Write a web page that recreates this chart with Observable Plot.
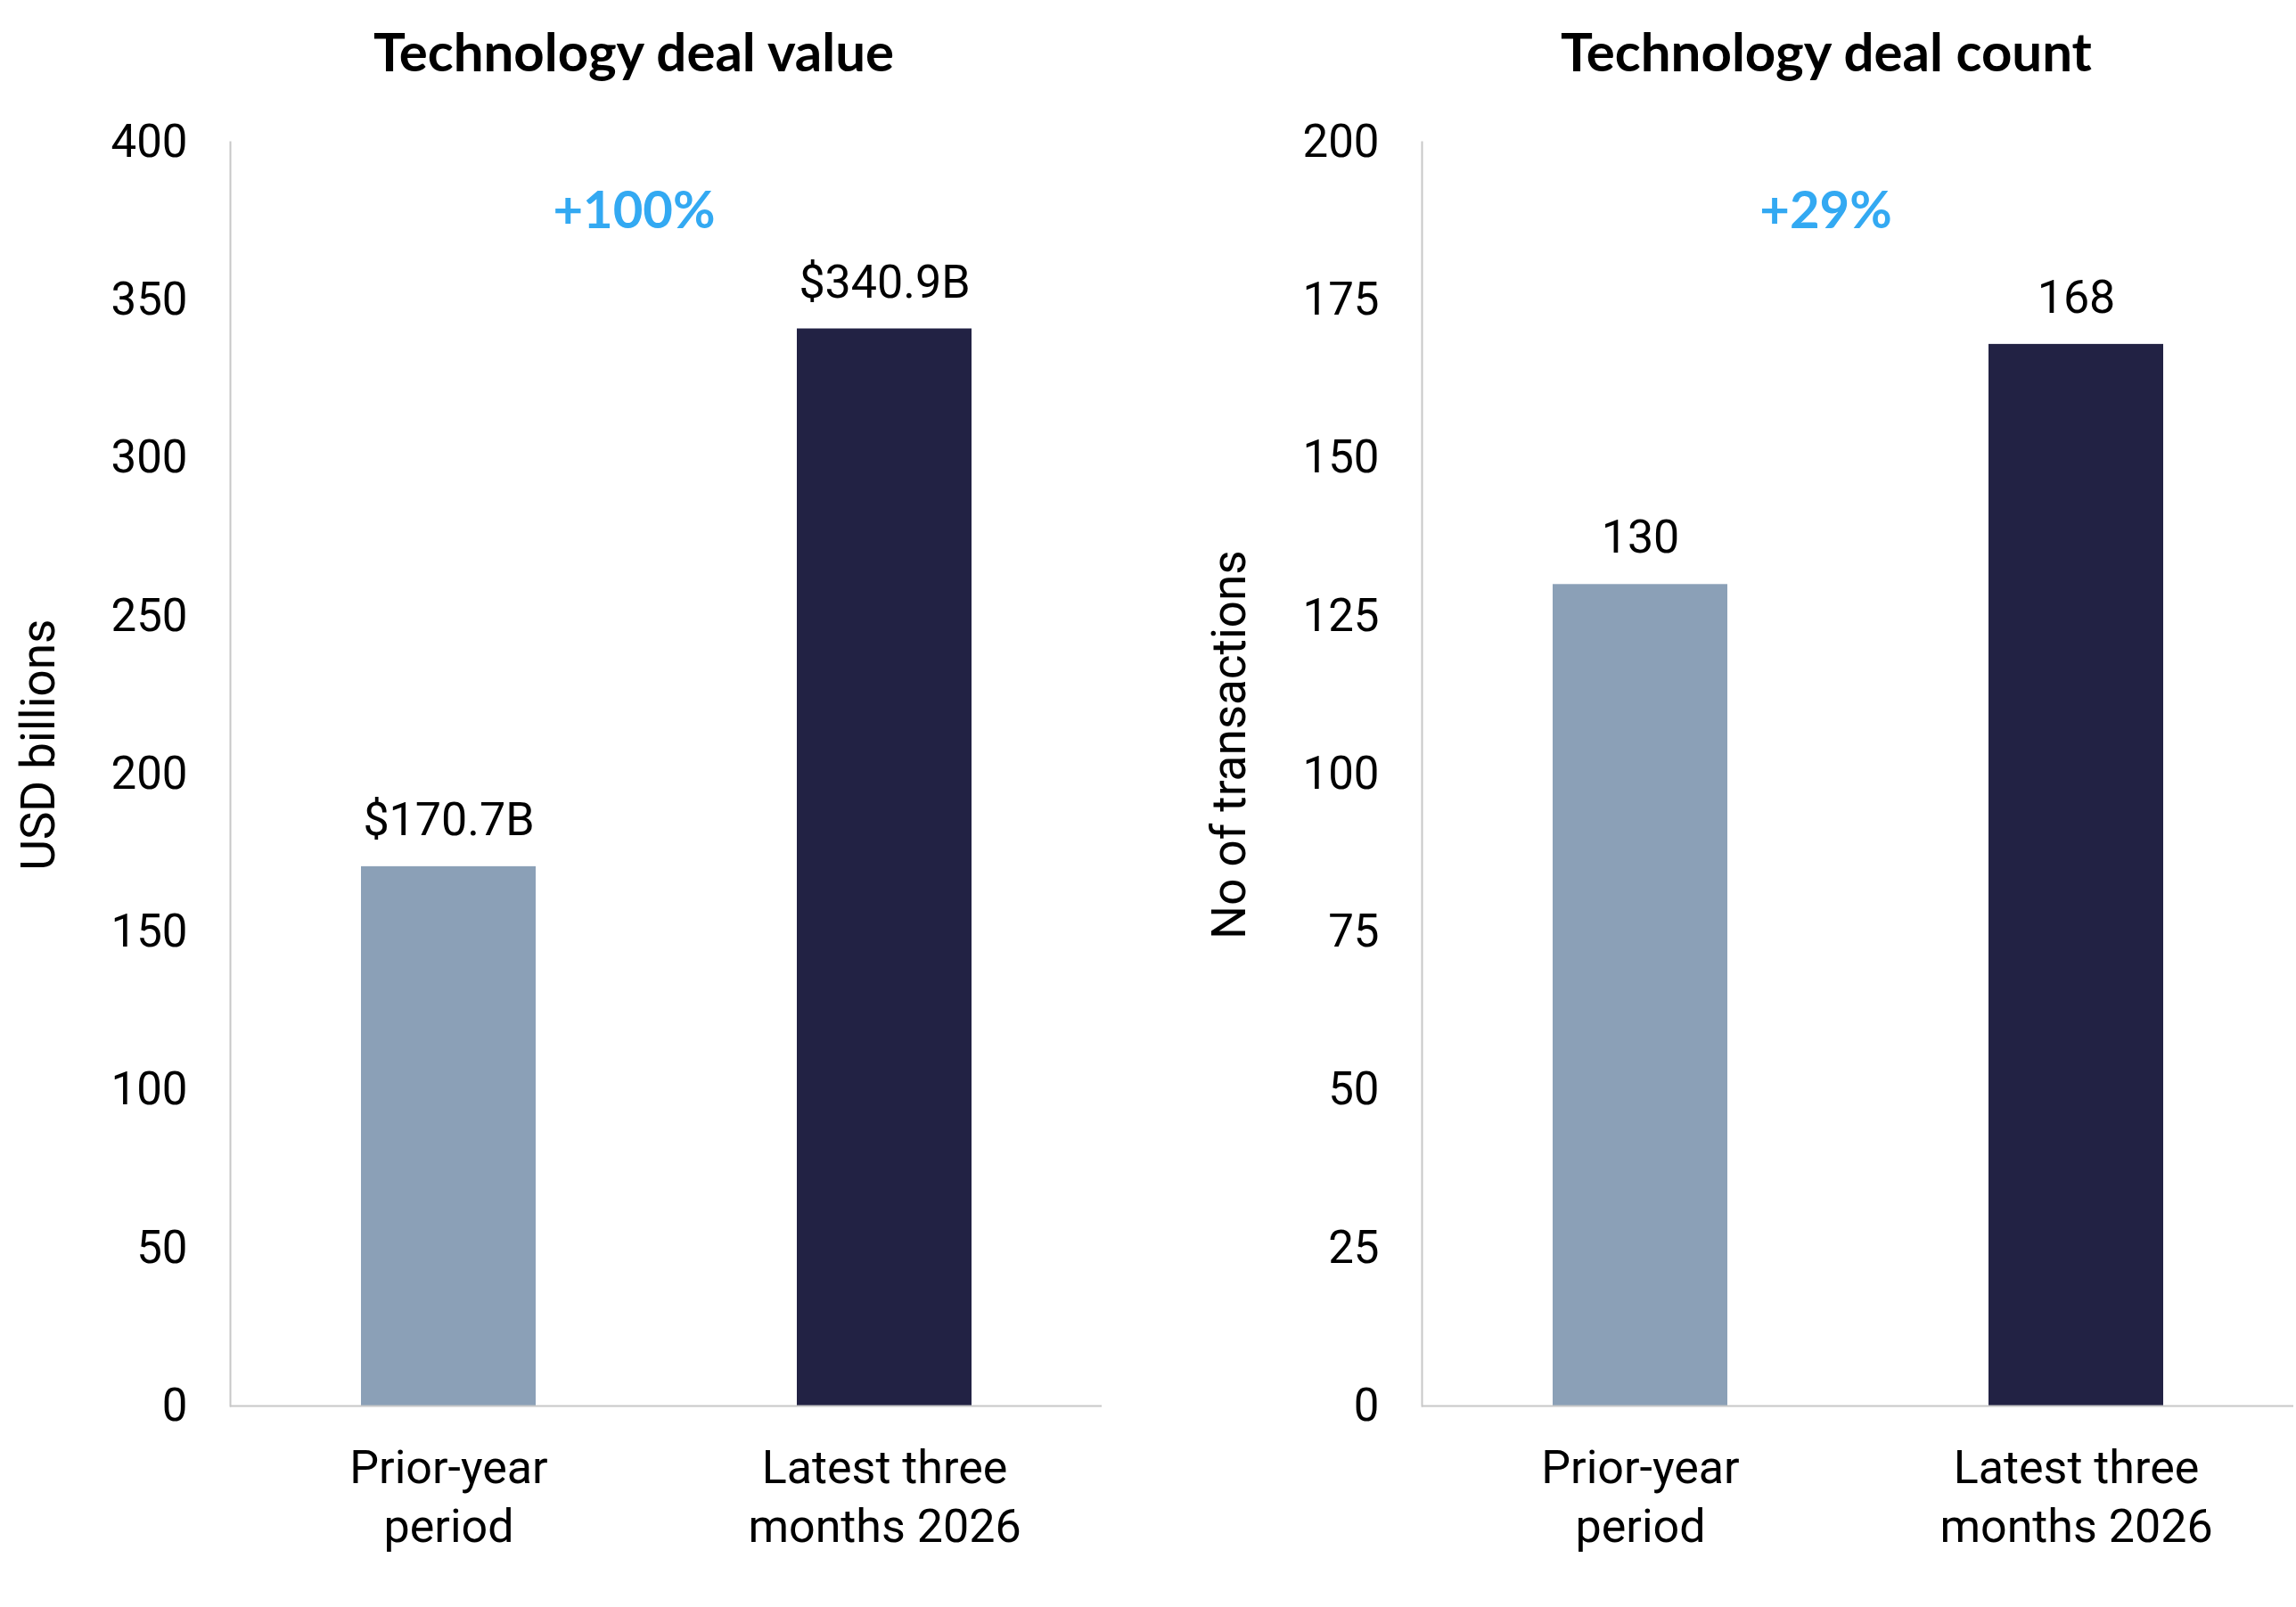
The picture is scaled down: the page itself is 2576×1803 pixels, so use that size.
<!DOCTYPE html>
<html>
<head>
<meta charset="utf-8">
<script src="https://cdn.jsdelivr.net/npm/d3@7"></script>
<script src="https://cdn.jsdelivr.net/npm/@observablehq/plot@0.6"></script>
<style>
  html, body { margin: 0; padding: 0; background: #fff; overflow: hidden; }
  #wrap { position: relative; width: 2576px; height: 1803px; }
  .panel { position: absolute; top: 0; width: 1288px; height: 1803px; }
  .title { position: absolute; top: 17px; line-height: 80px; transform: translateX(-50%);
           white-space: nowrap; font-family: Lato, sans-serif; font-weight: 700; font-size: 60px; color: #000; }
  .panel svg { position: absolute; top: 120px; left: 0; }
</style>
</head>
<body>
<div id="wrap"></div>
<script>
// ---- data ----
const categories = ["Prior-year\nperiod", "Latest three\nmonths 2026"];
const dealValue = [170.7, 340.9];
const dealCount = [130, 168];
const valueLabels = ["$170.7B", "$340.9B"];
const countLabels = ["130", "168"];
const titles = ["Technology deal value", "Technology deal count"];
const yLabels = ["USD billions", "No of transactions"];
const changeLabels = ["+100%", "+29%"];
const valueTicks = [0, 50, 100, 150, 200, 250, 300, 350, 400];
const countTicks = [0, 25, 50, 75, 100, 125, 150, 175, 200];
const barColors = ["#8BA0B7", "#222244"];

const panels = [
  {values: dealValue, labels: valueLabels, ticks: valueTicks, domain: [0, 400], title: titles[0], ylabel: yLabels[0], change: changeLabels[0],
   left: 0, marginLeft: 258, marginRight: 52, titleX: 711, labelDx: -214},
  {values: dealCount, labels: countLabels, ticks: countTicks, domain: [0, 200], title: titles[1], ylabel: yLabels[1], change: changeLabels[1],
   left: 1288, marginLeft: 307, marginRight: 3, titleX: 761, labelDx: -215}
];

const wrap = document.getElementById("wrap");
for (const p of panels) {
  const data = categories.map((c, i) => ({cat: c, value: p.values[i], label: p.labels[i], color: barColors[i]}));
  const div = document.createElement("div");
  div.className = "panel";
  div.style.left = p.left + "px";
  const t = document.createElement("div");
  t.className = "title";
  t.style.left = p.titleX + "px";
  t.textContent = p.title;
  div.appendChild(t);

  const chart = Plot.plot({
    width: 1288,
    height: 1683,
    marginTop: 39,
    marginBottom: 226,
    marginLeft: p.marginLeft,
    marginRight: p.marginRight,
    style: {fontFamily: "Roboto, sans-serif", fontSize: "51px", color: "#000", background: "#fff"},
    x: {domain: categories, paddingInner: 0.6, paddingOuter: 0.3},
    y: {domain: p.domain},
    marks: [
      Plot.barY(data, {x: "cat", y: "value", fill: "color"}),
      Plot.frame({anchor: "left", stroke: "#C8C8C8", strokeWidth: 2}),
      Plot.ruleY([0], {stroke: "#C8C8C8", strokeWidth: 2}),
      Plot.axisY({ticks: p.ticks, tickSize: 0, tickPadding: 48, label: null, fontSize: 51}),
      Plot.axisX({tickSize: 0, tickPadding: 40, label: null, lineHeight: 1.27, fontSize: 52}),
      Plot.text(data, {x: "cat", y: "value", text: "label", dy: -52, fontSize: 52}),
      Plot.text([p.change], {frameAnchor: "top", dy: 55, dx: -36, text: d => d, fill: "#33A9F2",
        fontWeight: "bold", fontFamily: "Lato, sans-serif", fontSize: 58}),
      Plot.text([p.ylabel], {frameAnchor: "left", textAnchor: "middle", dx: p.labelDx, dy: -33, rotate: -90, text: d => d, fontSize: 53})
    ]
  });
  div.appendChild(chart);
  wrap.appendChild(div);
}
</script>
</body>
</html>
